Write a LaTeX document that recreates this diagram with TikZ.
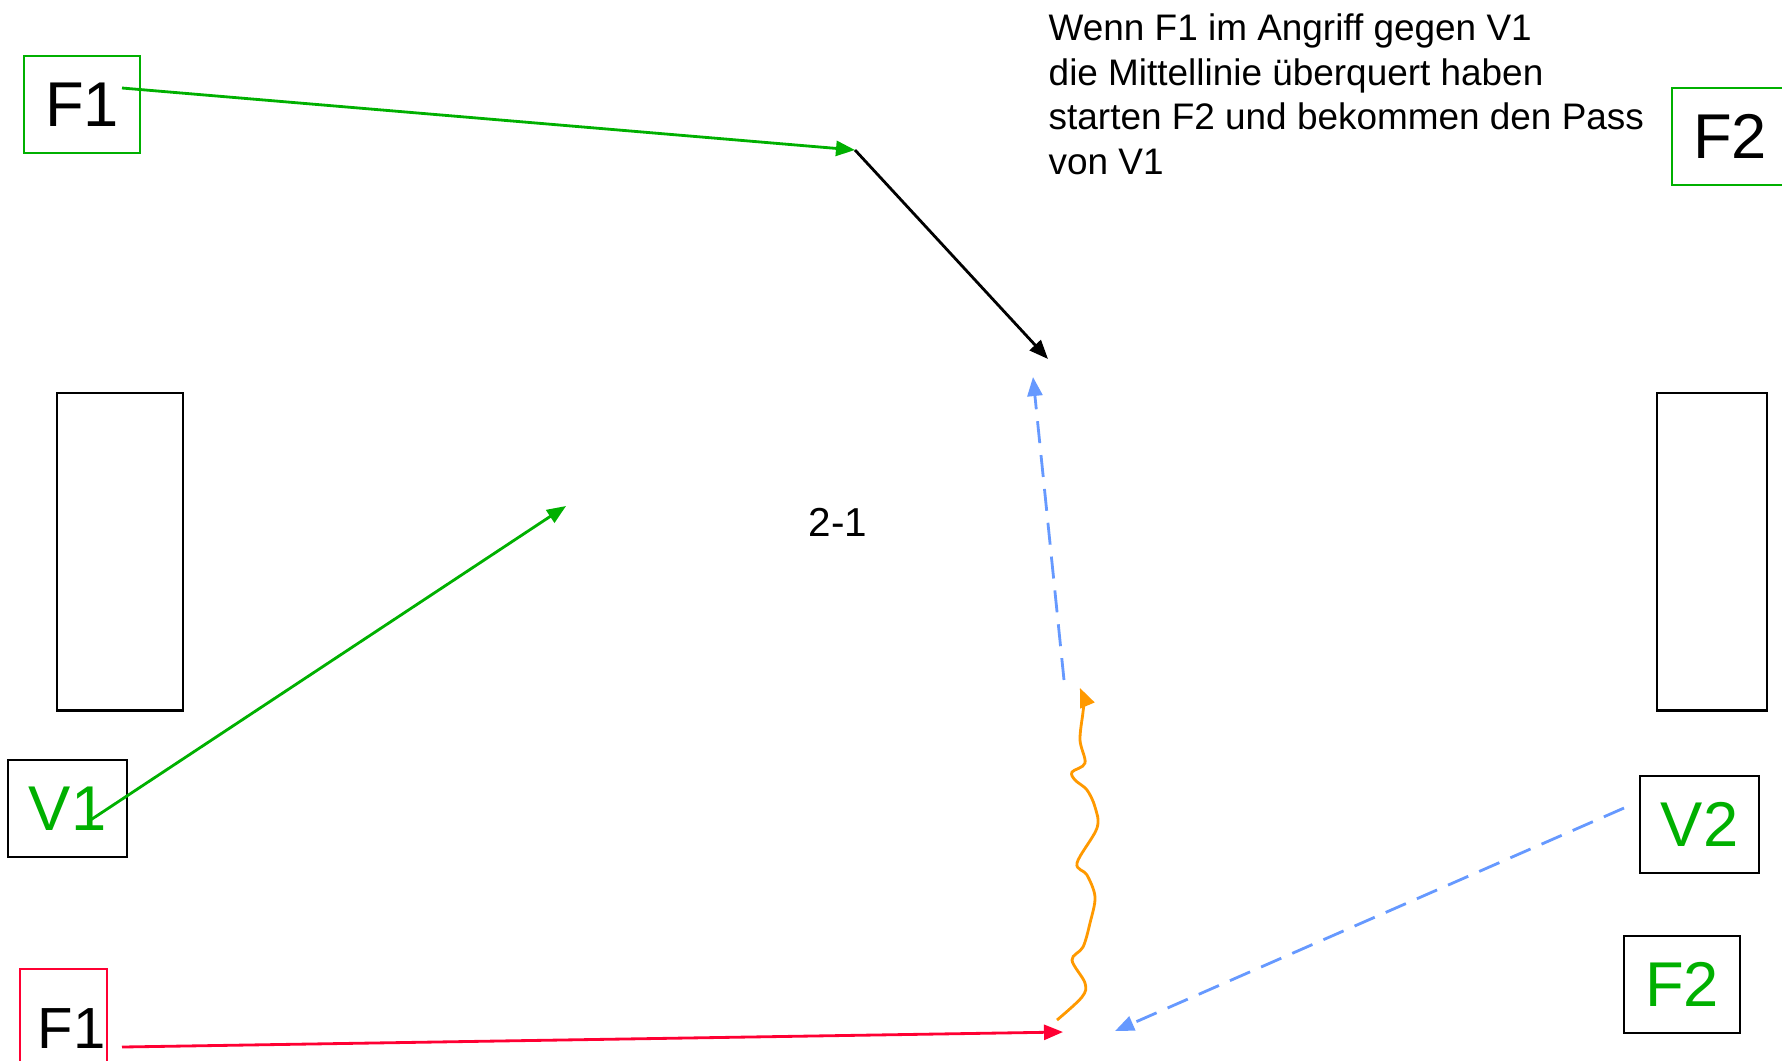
\documentclass[tikz,border=0pt]{standalone}
\usepackage{fontspec}
\setmainfont{Liberation Sans}
\usetikzlibrary{arrows.meta}
\definecolor{grn}{RGB}{0,176,0}
\definecolor{rot}{RGB}{255,0,51}
\definecolor{org}{RGB}{255,153,0}
\definecolor{blu}{RGB}{102,153,255}
\tikzset{
  player/.style={draw,line width=0.8pt,minimum width=1.16cm,minimum height=0.97cm,
    inner sep=0pt,font=\fontsize{18pt}{20pt}\selectfont},
  goal/.style={draw,line width=0.8pt,minimum height=3.17cm,inner sep=0pt},
  run/.style={-{Triangle[length=0.19cm,width=0.15cm]},line width=0.8pt},
  pass/.style={run,blu,dash pattern=on 0.22cm off 0.12cm},
}

\begin{document}
\begin{tikzpicture}[x=0.01cm,y=-0.01cm]
\useasboundingbox (0,0) rectangle (1782,1060);
% Tore
\node[goal,minimum width=1.26cm] (G1) at (120,551.5) {};
\node[goal,minimum width=1.10cm] (G2) at (1712,551.5) {};
% Spieler
\node[player,draw=grn] (F1a) at (82,104.5) {F1};
\node[player,draw=grn] (F2a) at (1730,136.5) {F2};
\node[player,minimum width=1.19cm,text=grn] (V1) at (67.5,808.5) {V1};
\node[player,minimum width=1.19cm,text=grn] (V2) at (1699.5,824.5) {V2};
\node[player,text=grn] (F2b) at (1682,984.5) {F2};
\node[player,draw=rot,minimum width=0.87cm,minimum height=1.2cm,
  label={[font=\fontsize{16.5pt}{18pt}\selectfont,xshift=0.08cm]center:F1}] (F1b) at (63.5,1029) {};
\node[font=\fontsize{11.5pt}{13pt}\selectfont] (score) at (838,522) {2-1};
\node[anchor=north west,align=left,inner sep=0pt,
  font=\fontsize{10.5pt}{12.7pt}\selectfont] (note) at (1048,13)
  {Wenn F1 im Angriff gegen V1\\die Mittellinie überquert haben\\
   starten F2 und bekommen den Pass\\von V1};
% Laufwege
\coordinate (s1) at (122,88);   \coordinate (p1) at (855,150);
\coordinate (p2) at (1048,359);
\coordinate (s2) at (89,821);   \coordinate (p3) at (566,506);
\coordinate (s3) at (122,1047); \coordinate (p4) at (1063,1032);
\coordinate (w0) at (1057,1020); \coordinate (w1) at (1081,688);
\coordinate (b0) at (1064,680); \coordinate (b1) at (1033,377);
\coordinate (s4) at (1624,808); \coordinate (b2) at (1115,1031);
\draw[run,grn] (s1) -- (p1);
\draw[run] (p1) -- (p2);
\draw[run,grn] (s2) -- (p3);
\draw[run,rot] (s3) -- (p4);
\draw[run,org] plot[smooth,tension=0.55] coordinates {(1057,1020) (1082,997)
  (1085,983) (1072,960) (1083,947) (1090,923) (1095,897) (1087,875) (1077,863)
  (1097,828) (1095,807) (1087,790) (1075,780) (1072,772) (1085,763) (1080,740)
  (1083,712) (1084,700) (1080,688)};
\draw[pass] (b0) -- (b1);
\draw[pass] (s4) -- (b2);
\end{tikzpicture}
\end{document}
